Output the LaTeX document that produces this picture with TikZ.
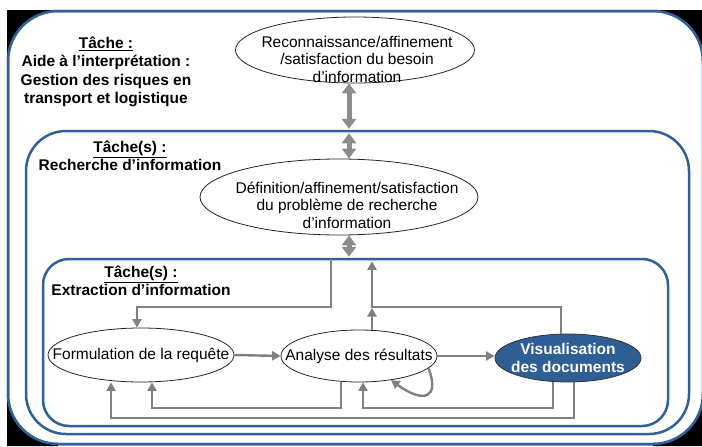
\documentclass[tikz,border=0pt]{standalone}
\usepackage{fontspec}
\setmainfont{Liberation Sans}
\usetikzlibrary{arrows.meta,shapes.geometric}
\definecolor{frameblue}{RGB}{47,96,152}
\definecolor{visblue}{RGB}{46,94,148}
\definecolor{flowgray}{RGB}{128,128,128}
\definecolor{linkgray}{RGB}{140,140,140}

\begin{document}
\begin{tikzpicture}[x=1pt,y=-1pt,
  every node/.style={font=\fontsize{15.5}{17.5}\selectfont},
  frame/.style={draw=frameblue, line width=2.5pt, fill=white, rectangle, inner sep=0pt},
  bubble/.style={ellipse, draw=black!85, line width=0.8pt, fill=white, inner sep=0pt},
  bubbletext/.style={align=center, inner sep=0pt},
  flow/.style={draw=flowgray, line width=2.4pt, -{Triangle[width=9pt,length=8.5pt]}},
  link/.style={draw=linkgray, line width=5pt,
    {Triangle[width=14pt,length=10pt]}-{Triangle[width=14pt,length=10pt]}},
  title/.style={font=\bfseries\fontsize{15.5}{18.5}\selectfont, align=center, inner sep=0pt},
]
\useasboundingbox (0,0) rectangle (702,447);
\clip (0,0) rectangle (702,447);
\fill[white] (0,0) rectangle (702,447);

% outer task frame (its right side runs just past the page edge)
\node[frame, rounded corners=50pt, minimum width=695pt, minimum height=433pt] (outer) at (355.5,227.5) {};
% dark plate showing in the four corners outside the rounded frame
\fill[black] (7,10) -- (58,10) -- (58,11) .. controls (30.4,11) and (8,33.4) .. (8,61) -- (7,61) -- cycle;
\fill[black] (704,10) -- (653,10) -- (653,11) .. controls (680.6,11) and (703,33.4) .. (703,61) -- (704,61) -- cycle;
\fill[black] (704,446) -- (704,394) -- (703,394) .. controls (703,421.6) and (680.6,444) .. (653,444) -- (653,446) -- cycle;
\fill[black] (7,446) -- (58,446) -- (58,444) .. controls (30.4,444) and (8,421.6) .. (8,394) -- (7,394) -- cycle;
\draw[frameblue, line width=2.5pt, rounded corners=50pt] (8,11) rectangle (703,444);

% nested task frames
\node[frame, rounded corners=40pt, minimum width=663pt, minimum height=303pt] (mid) at (357.5,282.5) {};
\node[frame, rounded corners=26pt, minimum width=625pt, minimum height=167pt] (inner) at (355.5,342.5) {};

% frame titles
\node[title] (t1) at (106,72) {\underline{Tâche :}\\Aide à l’interprétation :\\Gestion des risques en\\transport et logistique};
\node[title] (t2) at (130,156) {\underline{Tâche(s) :}\\Recherche d’information};
\node[title] (t3) at (141,281) {\underline{Tâche(s) :}\\Extraction d’information};

% ellipses
\node[bubble, minimum width=239pt, minimum height=66pt] (e1) at (355,50) {};
\node[bubbletext] (e1t) at (357,59) {Reconnaissance/affinement\\/satisfaction du besoin\\d’information};

\node[bubble, minimum width=278pt, minimum height=76pt] (e2) at (339,197) {};
\node[bubbletext] (e2t) at (347,205) {Définition/affinement/satisfaction\\du problème de recherche\\d’information};

\node[bubble, minimum width=186pt, minimum height=54pt] (form) at (141,355) {};
\node[bubbletext] (formt) at (form) {Formulation de la requête};

\node[bubble, minimum width=156pt, minimum height=52pt] (ana) at (359,356) {};
\node[bubbletext] (anat) at (ana) {Analyse des résultats};

\node[bubble, fill=visblue, draw=black!80, minimum width=146pt, minimum height=48pt] (vis) at (568,358) {};
\node[bubbletext, text=white, font=\bfseries\fontsize{15.5}{18}\selectfont] (vist) at (vis) {Visualisation\\des documents};

% links between levels
\draw[link, shorten >=1pt] (e1.south -| 349,0) -- (mid.north -| 349,0);
\draw[link, shorten <=3.5pt] (mid.north -| 349,0) -- (e2.north -| 349,0);
\draw[link, shorten >=1pt] (e2.south -| 349,0) -- (inner.north -| 349,0);

% extraction flow
\draw[flow, shorten <=1pt] (inner.north -| 331,0) -- (331,307) -| (form.north -| 137,0);
\draw[flow] (ana.north -| 372,0) -- (372,308);
\draw[flow, shorten >=3.5pt] (vis.north -| 561,0) |- (372,307) -- (inner.north -| 372,0);
\draw[flow] (form.east) -- (ana.west);
\draw[flow] (ana.east) -- (ana.east -| vis.west);
\draw[flow] (ana.-10) .. controls (440,398) and (424,404) .. (ana.-37);
\draw[flow] (ana.south -| 341,0) -- (341,408) -| (form.south -| 152,0);
\draw[flow] (vis.south -| 553,0) -- (553,408) -| (ana.south -| 363,0);
\draw[flow] (vis.south -| 574,0) -- (574,418) -| (form.south -| 111,0);
\end{tikzpicture}
\end{document}
